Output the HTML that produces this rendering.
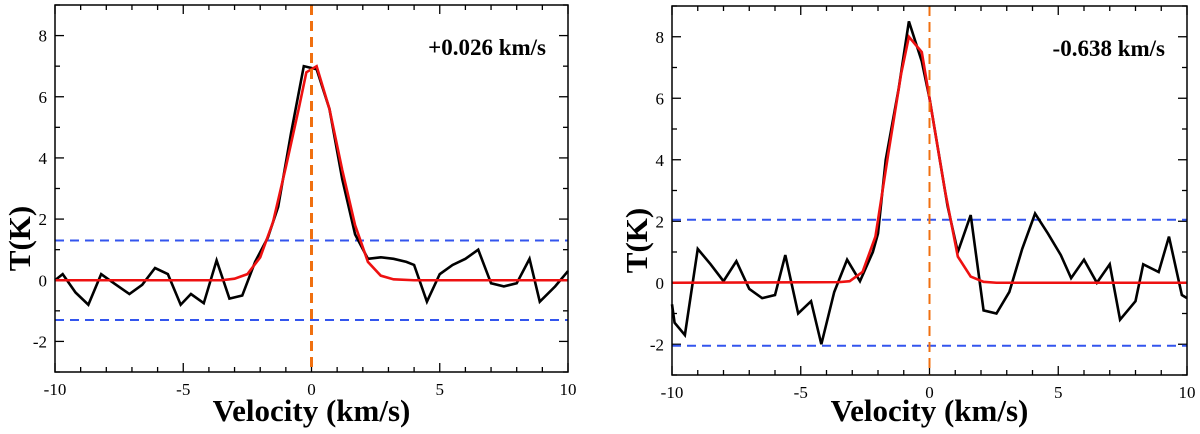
<!DOCTYPE html>
<html><head><meta charset="utf-8"><style>
html,body{margin:0;padding:0;background:#fff;}
svg{display:block;font-family:"Liberation Serif",serif;}
</style></head><body>
<svg id="fig" width="1200" height="434" viewBox="0 0 1200 434" xmlns="http://www.w3.org/2000/svg"></svg>
<script>
const xTicks=[-10,-5,0,5,10];
const yTicks=[-2,0,2,4,6,8];
// left panel data
const leftObsV=[-10,-9.7,-9.2,-8.7,-8.2,-7.7,-7.1,-6.6,-6.1,-5.6,-5.1,-4.7,-4.2,-3.7,-3.2,-2.7,-2.2,-1.7,-1.3,-0.8,-0.3,0.2,0.7,1.2,1.7,2.2,2.7,3.2,3.7,4.0,4.5,5.0,5.5,6.0,6.5,7.0,7.5,8.0,8.5,8.9,9.5,10];
const leftObsT=[0,0.2,-0.4,-0.8,0.2,-0.1,-0.45,-0.15,0.4,0.2,-0.8,-0.45,-0.75,0.65,-0.6,-0.5,0.6,1.4,2.4,4.8,7.0,6.9,5.6,3.3,1.5,0.7,0.75,0.7,0.6,0.5,-0.7,0.2,0.5,0.7,1.0,-0.1,-0.2,-0.1,0.7,-0.7,-0.2,0.3];
const leftFitV=[-10,-3.5,-3,-2.5,-2,-1.5,-1,-0.5,-0.2,0.2,0.7,1.2,1.7,2.2,2.7,3.2,4,10];
const leftFitT=[0,0,0.05,0.2,0.75,1.9,3.7,5.6,6.8,7.0,5.6,3.6,1.8,0.6,0.15,0.03,0,0];
const leftSigma=1.3;
const leftLabel="+0.026 km/s";
// right panel data
const rightObsV=[-10,-9.9,-9.5,-9.0,-8.5,-8.0,-7.5,-7.0,-6.5,-6.0,-5.6,-5.1,-4.6,-4.2,-3.7,-3.2,-2.7,-2.2,-2.0,-1.7,-1.2,-0.8,-0.3,0,0.4,0.7,1.1,1.6,2.1,2.6,3.1,3.6,4.1,4.6,5.1,5.5,6.0,6.5,7.0,7.4,8.0,8.3,8.9,9.3,9.8,10];
const rightObsT=[-0.7,-1.3,-1.7,1.1,0.6,0.05,0.7,-0.2,-0.5,-0.4,0.9,-1.0,-0.6,-2.0,-0.3,0.75,0.05,1.0,1.6,4.0,6.3,8.5,7.2,6.0,4.0,2.5,1.0,2.2,-0.9,-1.0,-0.3,1.1,2.25,1.6,0.9,0.15,0.75,0.0,0.6,-1.2,-0.6,0.6,0.35,1.5,-0.4,-0.5];
const rightFitV=[-10,-3.5,-3.1,-2.6,-2.1,-1.6,-1.1,-0.8,-0.3,0.1,0.6,1.1,1.6,2.1,2.6,10];
const rightFitT=[0,0.02,0.05,0.35,1.5,4.2,6.8,8.0,7.5,5.5,3.0,0.85,0.2,0.03,0,0];
const rightSigma=2.05;
const rightLabel="-0.638 km/s";

const NS="http://www.w3.org/2000/svg";
const svg=document.getElementById('fig');
function mk(tag,attrs,parent){const e=document.createElementNS(NS,tag);for(const k in attrs)e.setAttribute(k,attrs[k]);(parent||svg).appendChild(e);return e;}

function panel(id,L,R,T,B,obsV,obsT,fitV,fitT,sig,label,orangeW){
  const g=mk('g',{});
  
  
  const sx=v=>L+(v+10)/20*(R-L);
  const sy=t=>B-(t+3)/12*(B-T);
  for(let v=-10;v<=10;v++){
    const len=(v%5===0)?9:5;
    const t1=mk('line',{x1:sx(v),x2:sx(v),y1:B,y2:B-len,stroke:'#000','stroke-width':1.3},g);
    
    
    const t2=mk('line',{x1:sx(v),x2:sx(v),y1:T,y2:T+len,stroke:'#000','stroke-width':1.3},g);
    
    
  }
  for(let t=-3;t<=9;t++){
    const len=(t%2===0)?9:5;
    const a=mk('line',{x1:L,x2:L+len,y1:sy(t),y2:sy(t),stroke:'#000','stroke-width':1.3},g);
    
    
    const b=mk('line',{x1:R,x2:R-len,y1:sy(t),y2:sy(t),stroke:'#000','stroke-width':1.3},g);
    
    
  }
  xTicks.forEach(v=>{
    const e=mk('text',{x:sx(v),y:B+23,'text-anchor':'middle','font-size':17},g);
    e.textContent=v;
    
    
  });
  yTicks.forEach(t=>{
    const e=mk('text',{x:L-8,y:sy(t)+6,'text-anchor':'end','font-size':17},g);
    e.textContent=t;
    
    
  });
  [sig,-sig].forEach(s=>{
    const e=mk('line',{x1:L,x2:R,y1:sy(s),y2:sy(s),stroke:'#3355ee','stroke-width':2,'stroke-dasharray':'9,6'},g);
    
    
  });
  const o=mk('polyline',{points:obsV.map((v,i)=>sx(v)+','+sy(obsT[i])).join(' '),fill:'none',stroke:'#000','stroke-width':2.6,'stroke-linejoin':'miter'},g);
  
  
  const f=mk('polyline',{points:fitV.map((v,i)=>sx(v)+','+sy(fitT[i])).join(' '),fill:'none',stroke:'#ee1111','stroke-width':2.6},g);
  
  
  const ov=mk('line',{x1:sx(0),x2:sx(0),y1:T,y2:B,stroke:'#f07010','stroke-width':orangeW,'stroke-dasharray':'10,6'},g);
  
  
  const box=mk('rect',{x:L,y:T,width:R-L,height:B-T,fill:'none',stroke:'#000','stroke-width':1.5},g);
  
  
  const lab=mk('text',{x:R-22,y:T+50,'text-anchor':'end','font-size':23,'font-weight':'bold'},g);
  lab.textContent=label;
  
  
  const xt=mk('text',{x:(L+R)/2,y:421,'text-anchor':'middle','font-size':31,'font-weight':'bold'},g);
  xt.textContent='Velocity (km/s)';
  
  
  const cy=(T+B)/2+50, cx=L-25;
  const yt=mk('text',{x:cx,y:cy,'text-anchor':'middle','font-size':31,'font-weight':'bold',transform:`rotate(-90 ${cx} ${cy})`},g);
  yt.textContent='T(K)';
  
  
}
panel('left',55,568,5,372,leftObsV,leftObsT,leftFitV,leftFitT,leftSigma,leftLabel,3);
panel('right',672,1187,6,375,rightObsV,rightObsT,rightFitV,rightFitT,rightSigma,rightLabel,2);
</script>
</body></html>
